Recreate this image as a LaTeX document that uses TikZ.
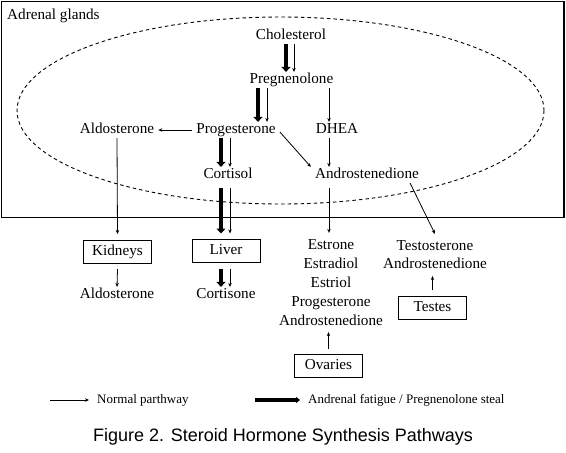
\documentclass[tikz,border=0pt]{standalone}
\usepackage{fontspec}
\setmainfont{Liberation Serif}
\setsansfont{Liberation Sans}
\usetikzlibrary{arrows.meta}

\begin{document}
\begin{tikzpicture}[x=1pt,y=-1pt,
  hormone/.style={inner xsep=4pt,inner ysep=1pt,text height=10.5pt,text depth=3.3pt,
    font=\rmfamily\fontsize{15.2}{18.8}\selectfont},
  column/.style={align=center,inner sep=1pt,outer ysep=6pt},
  organ/.style={draw,line width=0.8pt,minimum width=68pt,minimum height=23pt,inner sep=0pt,
    outer sep=6pt,text height=10.5pt,text depth=3.3pt,font=\rmfamily\fontsize{15.2}{18.8}\selectfont},
  legend/.style={inner sep=0pt,font=\rmfamily\fontsize{13}{15}\selectfont},
  normal/.style={line width=0.8pt,-{Stealth[length=4pt,width=3.5pt]}},
  fatigue/.style={line width=4.5pt,-{Triangle[length=5pt,width=9pt]}},
]

\newcommand\TK{-5pt}
\newcommand\TN{4pt}

\useasboundingbox (0,0) rectangle (566,453);

\draw[line width=1.2pt] (1.5,1.5) rectangle (564,217.5); % adrenal frame
\draw[dashed,dash pattern=on 3.5pt off 3pt,line width=0.9pt] (280.5,110.5) ellipse (263.5 and 93.5);
\node[hormone,anchor=west] (adrenal) at (3,16) {Adrenal glands};

\node[hormone] (chol)  at (291,36)   {Cholesterol};
\node[hormone] (preg)  at (291.5,80) {Pregnenolone};
\node[hormone] (prog)  at (236,130)  {Progesterone};
\node[hormone] (aldo)  at (117,130)  {Aldosterone};
\node[hormone] (dhea)  at (337,130)  {DHEA};
\node[hormone] (cort)  at (228,175)  {Cortisol};
\node[hormone] (andro) at (367,175)  {Androstenedione};

\node[organ] (kidney) at (117.5,251.5) {Kidneys};
\node[organ] (liver)  at (226,251)     {Liver};
\node[organ] (ovary)  at (328.5,366)   {Ovaries};
\node[organ] (testes) at (432.5,307.5) {Testes};

\node[hormone] (aldoB)  at (117,295) {Aldosterone};
\node[hormone] (cortn)  at (226,295) {Cortisone};
\node[column,font=\rmfamily\fontsize{15.2}{18.8}\selectfont] (estro) at (331,282.5)
  {Estrone\\Estradiol\\Estriol\\Progesterone\\Androstenedione};
\node[column,font=\rmfamily\fontsize{15.2}{18}\selectfont] (testo) at (435,255)
  {Testosterone\\Androstenedione};

% cholesterol -> pregnenolone
\draw[fatigue] ([xshift=-5pt]chol.south) -- ([xshift=-5pt]chol.south |- preg.north);
\draw[normal]  ([xshift=3pt]chol.south)  -- ([xshift=3pt]chol.south |- preg.north);
% pregnenolone -> progesterone, dhea
\draw[fatigue] ([xshift=22pt]prog.north |- preg.south) -- ([xshift=22pt]prog.north);
\draw[normal]  ([xshift=31pt]prog.north |- preg.south) -- ([xshift=31pt]prog.north);
\draw[normal]  ([xshift=-8pt]dhea.north |- preg.south) -- ([xshift=-8pt]dhea.north);
% progesterone -> aldosterone, cortisol, androstenedione
\draw[normal]  (prog.west) -- (aldo.east);
\draw[fatigue] ([xshift=\TK]liver.north |- prog.south) -- ([xshift=\TK]liver.north |- cort.north);
\draw[normal]  ([xshift=\TN]liver.north |- prog.south) -- ([xshift=\TN]liver.north |- cort.north);
\draw[normal]  ([yshift=-2pt]prog.east) -- (andro.north west);
\draw[normal]  ([xshift=-8pt]dhea.south) -- ([xshift=-8pt]dhea.south |- andro.north);

% out of the adrenal glands
\draw[normal]  (aldo.south) -- (kidney.north);
\draw[fatigue,shorten <=5pt] ([xshift=\TK]liver.north |- cort.south) -- ([xshift=\TK]liver.north);
\draw[normal,shorten <=5pt]  ([xshift=\TN]liver.north |- cort.south) -- ([xshift=\TN]liver.north);
\draw[normal,shorten <=5pt]  ([xshift=-2pt]estro.north |- andro.south) -- ([xshift=-2pt]estro.north);
\draw[normal]  ([xshift=-13pt]andro.south east) -- (testo.north);

\draw[normal]  (kidney.south) -- (aldoB.north);
\draw[fatigue] ([xshift=\TK]liver.south) -- ([xshift=\TK]cortn.north);
\draw[normal]  ([xshift=\TN]liver.south) -- ([xshift=\TN]cortn.north);
\draw[normal]  (ovary.north) -- (ovary.north |- estro.south);
\draw[normal]  (testes.north) -- (testes.north |- testo.south);

% legend
\coordinate (nA) at (50,400);
\coordinate (nB) at (89,400);
\coordinate (fA) at (255,400);
\coordinate (fB) at (300,400);
\draw[normal] (nA) -- (nB);
\node[legend,anchor=west] (normtext) at (97,400) {Normal parthway};
\draw[line width=4pt,-{Triangle[length=4pt,width=6pt]}] (fA) -- (fB);
\node[legend,anchor=west] (fatiguetext) at (308,400) {Andrenal fatigue / Pregnenolone steal};

\node[font=\sffamily\fontsize{18}{20}\selectfont] (caption) at (283,437)
  {Figure 2. Steroid Hormone Synthesis Pathways};

\end{tikzpicture}
\end{document}
